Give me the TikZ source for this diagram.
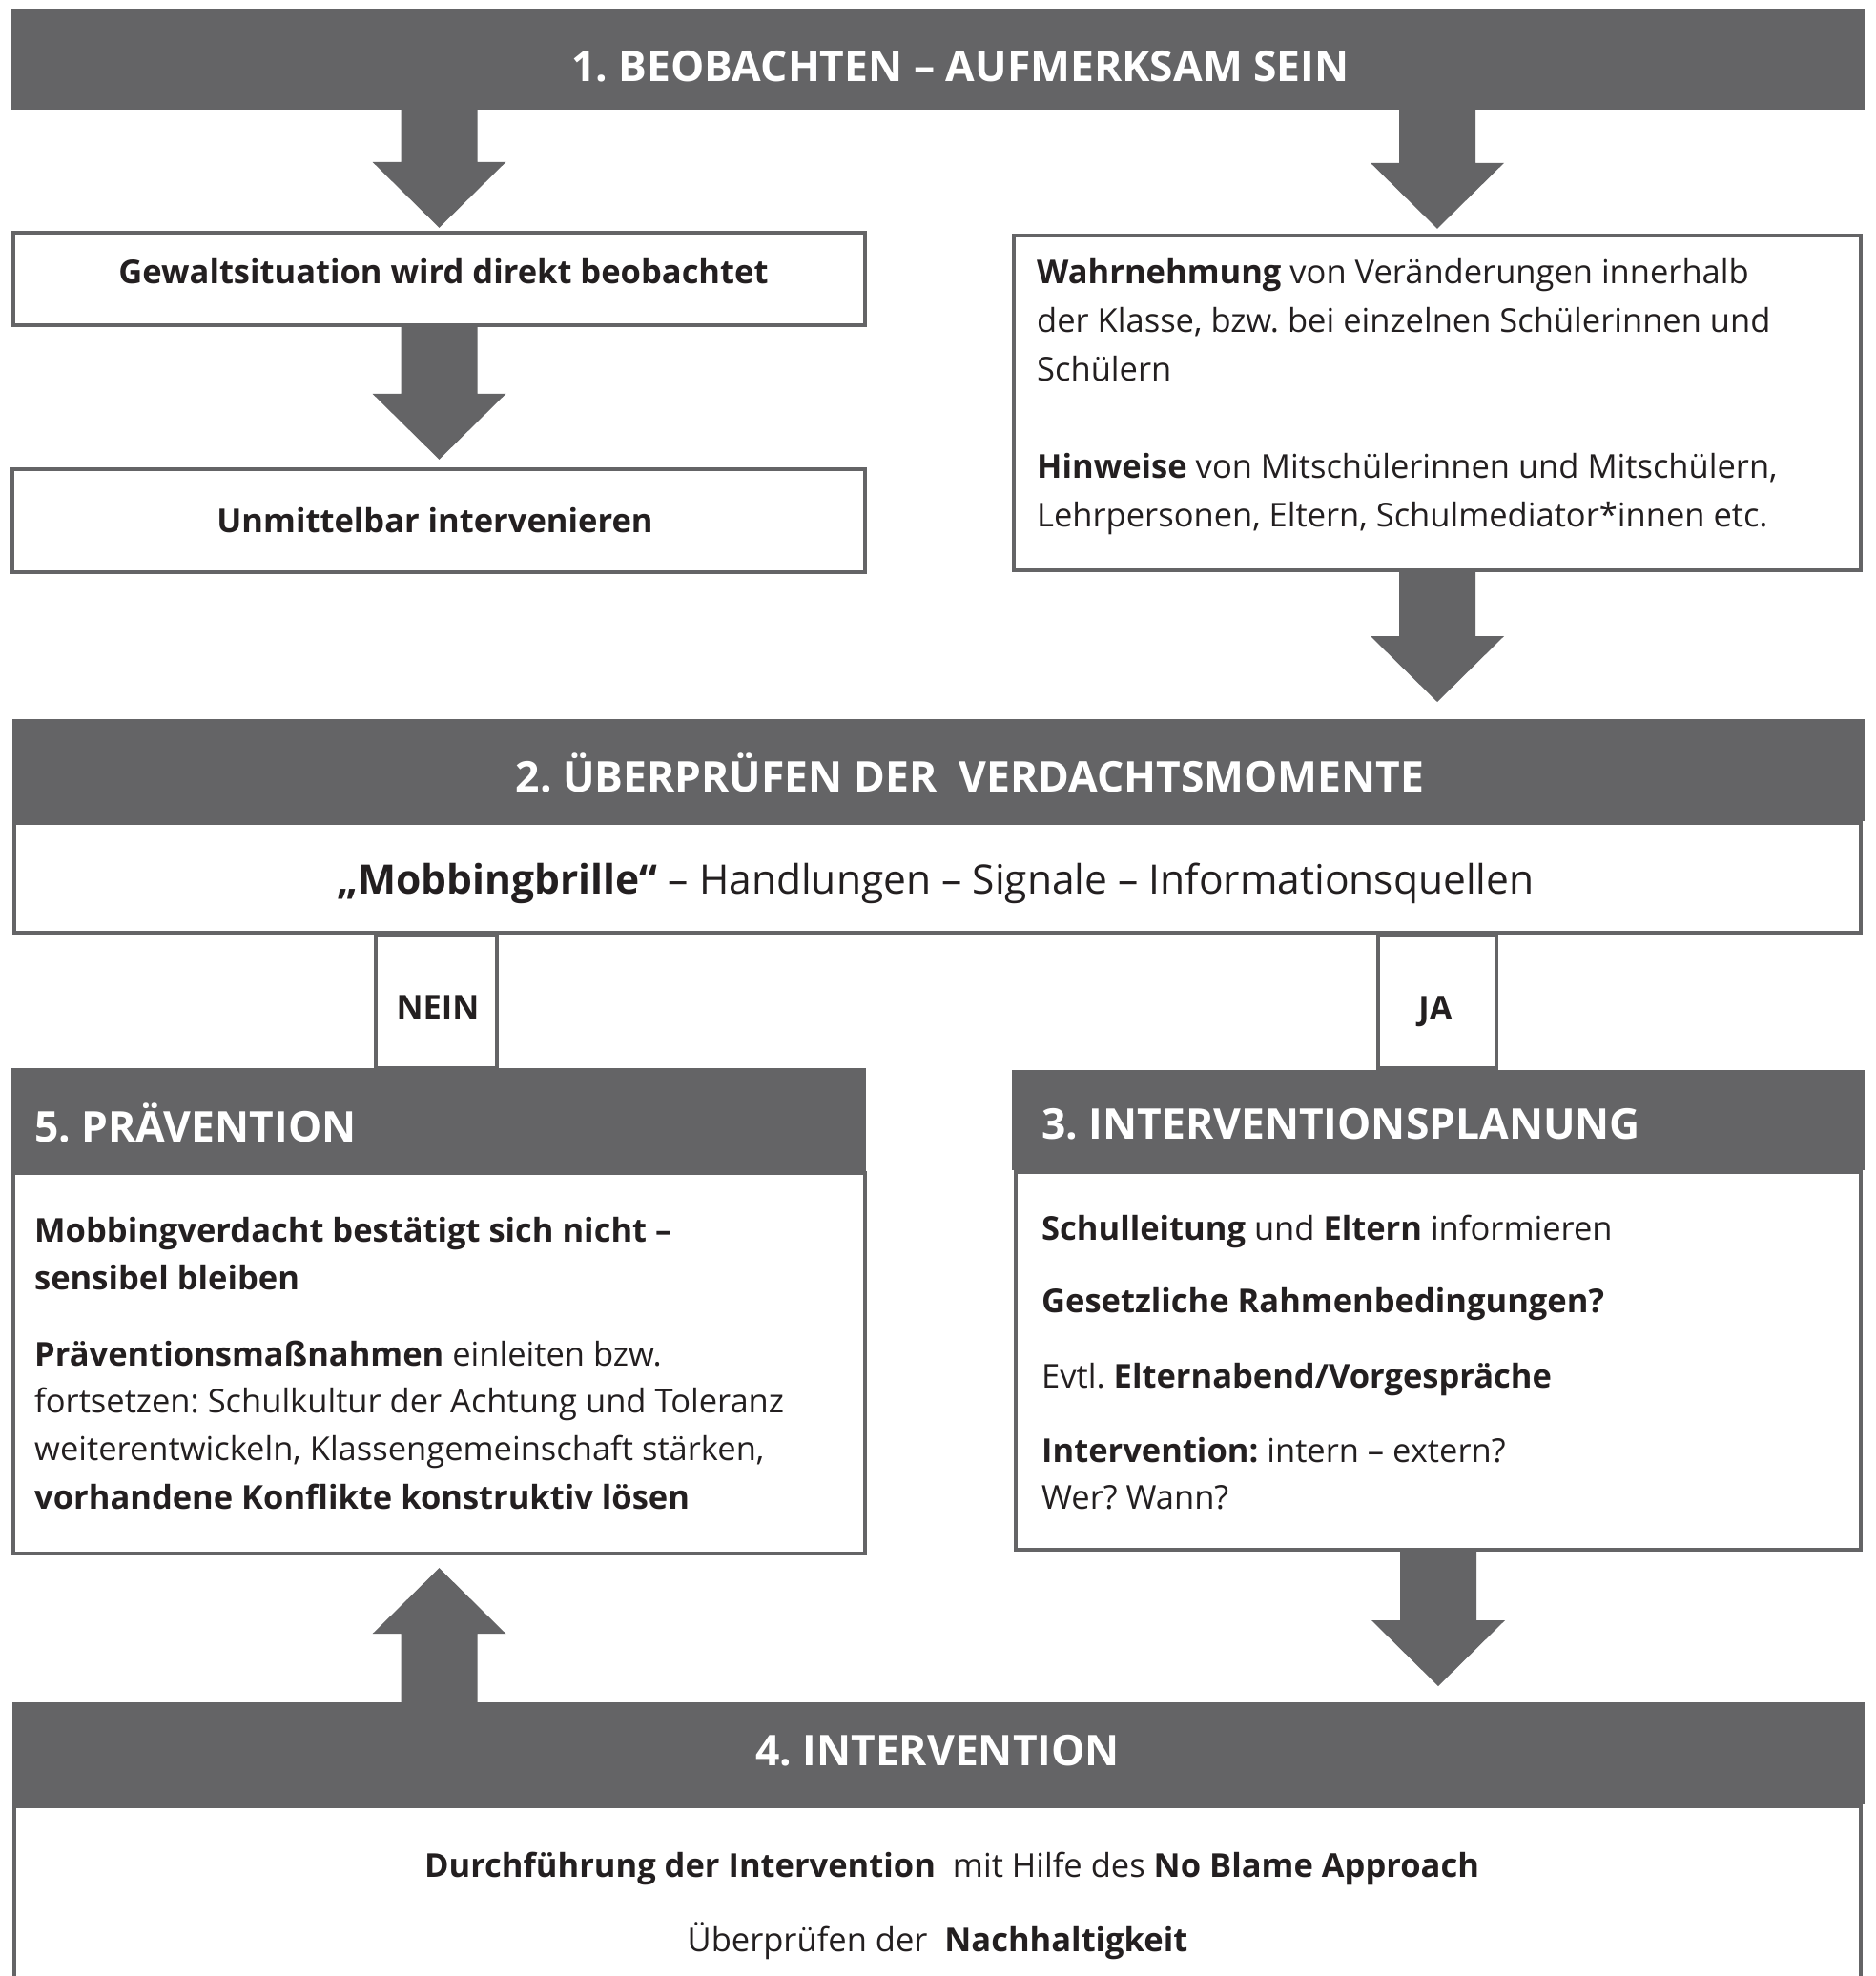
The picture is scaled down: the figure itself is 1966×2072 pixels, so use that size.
\documentclass[tikz,border=0pt]{standalone}
\usepackage{fontspec}
\setmainfont{Open Sans}
\usetikzlibrary{calc}
\definecolor{dg}{HTML}{646466}
\definecolor{tx}{HTML}{231F20}
\frenchspacing
\newcommand\blockdown[2]{\fill[arr] let \p1=#1, \p2=#2 in
  (\x1-40pt,\y1) -- (\x1+40pt,\y1) -- (\x1+40pt,\y2+69pt) -- (\x1+70pt,\y2+69pt)
  -- (\x1,\y2) -- (\x1-70pt,\y2+69pt) -- (\x1-40pt,\y2+69pt) -- cycle;}
\newcommand\blockup[2]{\fill[arr] let \p1=#1, \p2=#2 in
  (\x1-40pt,\y1) -- (\x1+40pt,\y1) -- (\x1+40pt,\y2-69pt) -- (\x1+70pt,\y2-69pt)
  -- (\x1,\y2) -- (\x1-70pt,\y2-69pt) -- (\x1-40pt,\y2-69pt) -- cycle;}
\begin{document}
\frenchspacing
\begin{tikzpicture}[x=1pt,y=-1pt,
  bar/.style={fill=dg, draw=none, inner sep=0pt, outer sep=0pt, anchor=north west},
  box/.style={draw=dg, line width=3.6pt, fill=white, inner sep=0pt, outer sep=0pt, anchor=north west},
  hdr/.style={text=white, font=\bfseries\fontsize{44.4}{53}\selectfont, inner sep=0pt},
  body/.style={text=tx, font=\fontsize{34.5}{50}\selectfont, inner sep=0pt, anchor=base west},
  big/.style={text=tx, font=\fontsize{42.5}{50}\selectfont, inner sep=0pt, anchor=base},
  arr/.style={fill=dg}]
\useasboundingbox (0,0) rectangle (1966,2072);
\fill[white] (0,0) rectangle (1966,2072);
% boxes
\node[box, minimum width=893.4pt, minimum height=97.4pt] (g1) at (13.8,243.8) {};
\node[box, minimum width=894.4pt, minimum height=108.4pt] (g2) at (12.8,491.8) {};
\node[box, minimum width=888.4pt, minimum height=351.4pt] (w) at (1062.8,246.8) {};
\node[box, minimum width=127.4pt, minimum height=140.4pt] (nein) at (393.8,979.8) {};
\node[box, minimum width=124.4pt, minimum height=140.4pt] (ja) at (1444.8,979.8) {};
\node[box, minimum width=1936.4pt, minimum height=115.4pt] (mob) at (14.8,862.8) {};
\node[box, minimum width=893.4pt, minimum height=399.4pt] (b5) at (13.8,1229.8) {};
\node[box, minimum width=886.4pt, minimum height=396.4pt] (b3) at (1064.8,1228.8) {};
\node[box, minimum width=1936.4pt, minimum height=240pt] (b4) at (14.8,1893.8) {};
% bars
\node[bar, minimum width=1943pt, minimum height=106pt] (bar1) at (12,9) {};
\node[bar, minimum width=1942pt, minimum height=107pt] (bar2) at (13,754) {};
\node[bar, minimum width=896pt, minimum height=108pt] (bar5) at (12,1120) {};
\node[bar, minimum width=894pt, minimum height=105pt] (bar3) at (1061,1122) {};
\node[bar, minimum width=1942pt, minimum height=107pt] (bar4) at (13,1785) {};
% arrows
\blockdown{(bar1.south -| g1.north)}{($(g1.north)+(0,-5)$)}
\blockdown{(bar1.south -| w.north)}{($(w.north)+(0,-7)$)}
\blockdown{(g1.south)}{($(g2.north)+(0,-10)$)}
\blockdown{(w.south)}{($(bar2.north -| w.north)+(0,-18)$)}
\blockdown{(b3.south)}{($(bar4.north -| b3.south)+(0,-17)$)}
\blockup{(bar4.north -| b5.south)}{($(b5.south)+(0,15)$)}
% headers
\node[hdr, anchor=base] (t1) at (1007,85) {1. BEOBACHTEN – AUFMERKSAM SEIN};
\node[hdr, anchor=base] (t2) at (1017,830) {2. ÜBERPRÜFEN DER\ \ VERDACHTSMOMENTE};
\node[hdr, anchor=base west] (t5) at (36,1197) {5. PRÄVENTION};
\node[hdr, anchor=base west] (t3) at (1092,1194) {3. INTERVENTIONSPLANUNG};
\node[hdr, anchor=base] (t4) at (983,1851) {4. INTERVENTION};
% body texts
\node[body, anchor=base] (g1t) at (465,297) {\textbf{Gewaltsituation wird direkt beobachtet}};
\node[body, anchor=base] (g2t) at (456,558) {\textbf{Unmittelbar intervenieren}};
\node[body] (w1) at (1087,297) {\textbf{Wahrnehmung} von Veränderungen innerhalb};
\node[body] (w2) at (1087,348) {der Klasse, bzw. bei einzelnen Schülerinnen und};
\node[body] (w3) at (1087,399) {Schülern};
\node[body] (w4) at (1087,501) {\textbf{Hinweise} von Mitschülerinnen und Mitschülern,};
\node[body] (w5) at (1087,552) {Lehrpersonen, Eltern, Schulmediator*innen etc.};
\node[big] (mobt) at (981,937) {\textbf{„Mobbingbrille“} – Handlungen – Signale – Informationsquellen};
\node[body, anchor=base] (neint) at (459,1068) {\textbf{NEIN}};
\node[body, anchor=base] (jat) at (1505,1069) {\textbf{JA}};
\node[body] (p1) at (36,1302) {\textbf{Mobbingverdacht bestätigt sich nicht –}};
\node[body] (p2) at (36,1352) {\textbf{sensibel bleiben}};
\node[body] (p3) at (36,1432) {\textbf{Präventionsmaßnahmen} einleiten bzw.};
\node[body] (p4) at (36,1481) {fortsetzen: Schulkultur der Achtung und Toleranz};
\node[body] (p5) at (36,1531) {weiterentwickeln, Klassengemeinschaft stärken,};
\node[body] (p6) at (36,1582) {\textbf{vorhandene Konflikte konstruktiv lösen}};
\node[body] (i1) at (1092,1300) {\textbf{Schulleitung} und \textbf{Eltern} informieren};
\node[body] (i2) at (1092,1376) {\textbf{Gesetzliche Rahmenbedingungen?}};
\node[body] (i3) at (1092,1455) {Evtl. \textbf{Elternabend/Vorgespräche}};
\node[body] (i4) at (1092,1533) {\textbf{Intervention:} intern – extern?};
\node[body] (i5) at (1092,1582) {Wer? Wann?};
\node[body, anchor=base] (d1) at (998,1968) {\textbf{Durchführung der Intervention}\ \ mit Hilfe des \textbf{No Blame Approach}};
\node[body, anchor=base] (d2) at (983,2046) {Überprüfen der\ \ \textbf{Nachhaltigkeit}};
\end{tikzpicture}
\end{document}
